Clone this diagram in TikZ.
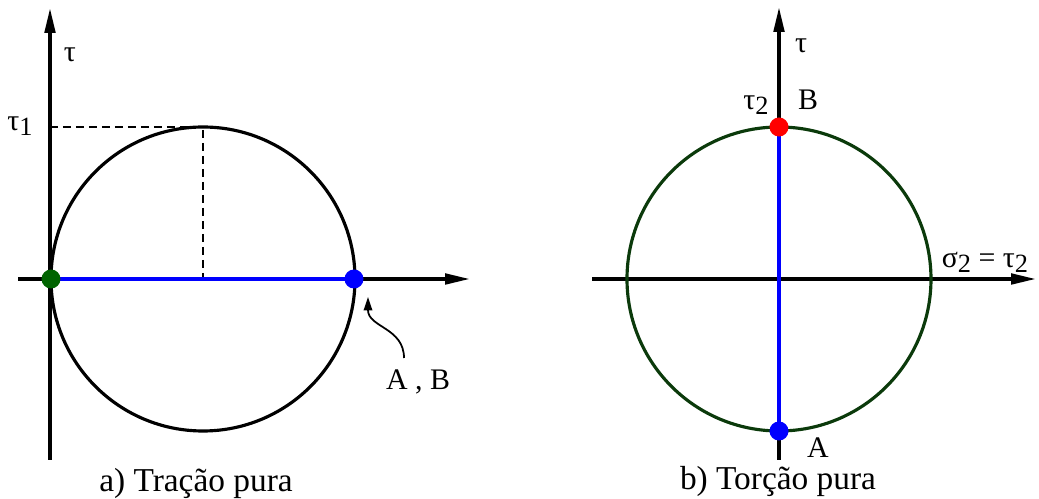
\documentclass[tikz,border=0pt]{standalone}
\usepackage{fontspec}
\setmainfont{Liberation Serif}
\usepackage{tikz}
\usetikzlibrary{arrows.meta}
\definecolor{vertfonce}{HTML}{0B3A0B}
\definecolor{vertpt}{HTML}{006400}
\newcommand{\ind}[1]{\raisebox{-0.35ex}{\fontsize{15}{15}\selectfont #1}}

\begin{document}
\begin{tikzpicture}[x=0.02cm, y=-0.02cm,
    axe/.style={line width=2pt, -{Triangle[length=0.5cm, width=0.21cm]}},
    cercle/.style={line width=1.8pt},
    tirets/.style={line width=1.1pt, dash pattern=on 0.17cm off 0.09cm},
    diam/.style={blue, line width=2.2pt},
    pt/.style={circle, inner sep=0pt, minimum size=0.38cm},
    lab/.style={font=\fontsize{17}{20}\selectfont, inner sep=0pt},
    titre/.style={font=\fontsize{19}{22}\selectfont, inner sep=0pt, anchor=base}]
    \useasboundingbox (0,0) rectangle (1039,499);

    % a) tracao pura
    \coordinate (Ab) at (50,460);
    \coordinate (At) at (50,8);
    \coordinate (Al) at (18,279);
    \coordinate (Ar) at (470,279);
    \coordinate (Ca) at (203,279);
    \coordinate (Ha) at (203,127);
    \coordinate (T1) at (50,127);
    \coordinate (Pg) at (51,279);
    \coordinate (Pab) at (354,279);
    \draw[axe] (Ab) -- (At);
    \draw[axe] (Al) -- (Ar);
    \draw[cercle] (Ca) circle[radius=152];
    \draw[tirets] (T1) -- (Ha) -- (Ca);
    \draw[diam] (Pg) -- (Pab);
    \node[pt, fill=vertpt] (dotG) at (Pg) {};
    \node[pt, fill=blue] (dotAB) at (Pab) {};
    \node[lab] (tauA) at (70,55) {τ};
    \node[lab] (tau1) at (20,126) {τ\ind{1}};
    \node[lab, anchor=base] (labAB) at (418,390) {A , B};
    \coordinate (Fq) at (404,358);
    \coordinate (Fp) at (368,297);
    \draw[line width=1pt, -{Triangle[length=0.27cm, width=0.17cm]}]
      (Fq) to[out=90, in=-90, looseness=1.1] (Fp);
    \node[titre] (titA) at (196,492) {a) Tração pura};

    % b) torcao pura
    \coordinate (Bb) at (779,460);
    \coordinate (Bt) at (779,7);
    \coordinate (Bl) at (592,279);
    \coordinate (Br) at (1036,279);
    \coordinate (Cb) at (779,279);
    \coordinate (Pb) at (779,127);
    \coordinate (Pa) at (779,431);
    \draw[axe] (Bb) -- (Bt);
    \draw[axe] (Bl) -- (Br);
    \draw[cercle, vertfonce] (Cb) circle[radius=152];
    \draw[diam] (Pb) -- (Pa);
    \node[pt, fill=red] (dotB) at (Pb) {};
    \node[pt, fill=blue] (dotA) at (Pa) {};
    \node[lab] (tauB) at (801,46) {τ};
    \node[lab] (tau2) at (756,105) {τ\ind{2}};
    \node[lab, anchor=base] (labB) at (808,110) {B};
    \node[lab, anchor=base] (labA) at (818,458) {A};
    \node[lab] (sig2) at (985,262) {σ\ind{2} = τ\ind{2}};
    \node[titre] (titB) at (778,490) {b) Torção pura};
\end{tikzpicture}
\end{document}
